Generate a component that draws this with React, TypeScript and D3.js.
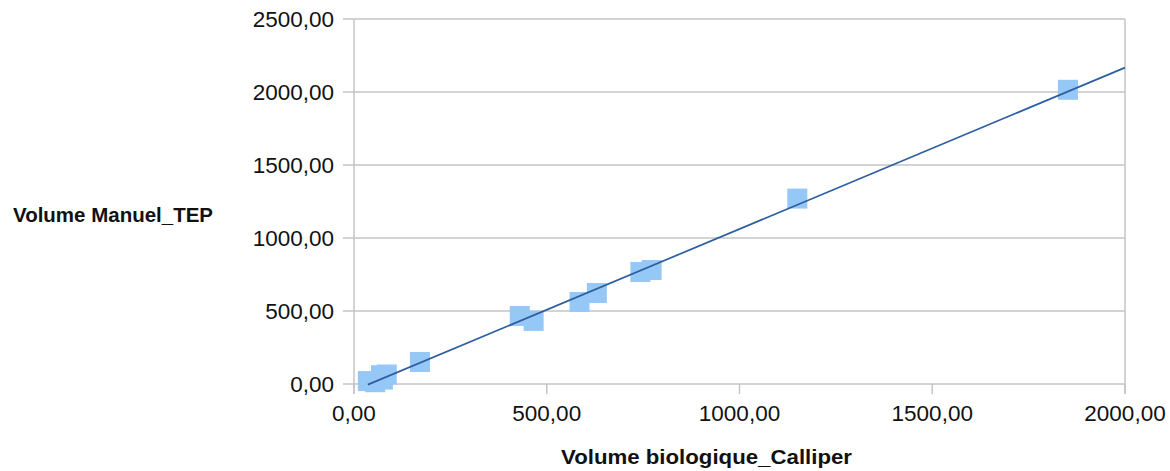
import React from "react";
import * as d3 from "d3";

const xValues = [36, 55, 70, 85, 75, 171, 430, 466, 585, 630, 743, 772, 1150, 1852];
const yValues = [20, 12, 60, 65, 30, 151, 466, 432, 562, 623, 767, 781, 1270, 2015];
const xTicks = [0, 500, 1000, 1500, 2000];
const yTicks = [0, 500, 1000, 1500, 2000, 2500];
const xTitle = "Volume biologique_Calliper";
const yTitle = "Volume Manuel_TEP";

const W = 1170;
const H = 471;
const FONT = "'Liberation Sans', Arial, Helvetica, sans-serif";

export default function App() {
  const x = d3.scaleLinear().domain([0, 2000]).range([354, 1125]);
  const y = d3.scaleLinear().domain([0, 2500]).range([384, 19]);
  const fmt = (v: number) => v.toFixed(2).replace(".", ",");

  const pts = xValues.map((v, i) => [v, yValues[i]] as [number, number]);
  const mx = d3.mean(xValues)!;
  const my = d3.mean(yValues)!;
  const sxy = d3.sum(pts, (p) => (p[0] - mx) * (p[1] - my));
  const sxx = d3.sum(pts, (p) => (p[0] - mx) ** 2);
  const slope = sxy / sxx;
  const icpt = my - slope * mx;
  const x0 = d3.min(xValues)!;
  const x1 = 2000;
  const line = d3.line<[number, number]>()
    .x((d) => x(d[0]))
    .y((d) => y(d[1]));
  const trend: [number, number][] = [
    [x0, icpt + slope * x0],
    [x1, icpt + slope * x1],
  ];

  const grid = "#c4c4c4";
  const sq = 20;

  return (
    <svg
      width={W}
      height={H}
      style={{ position: "absolute", left: 0, top: 0, background: "#fff" }}
      fontFamily={FONT}
    >
      {yTicks.map((t) => (
        <g key={"y" + t}>
          <line x1={343} x2={x(2000)} y1={y(t)} y2={y(t)} stroke={grid} strokeWidth={1.5} />
          <text x={334} y={y(t)} dy="0.36em" textAnchor="end" fontSize={22.5} fill="#111">
            {fmt(t)}
          </text>
        </g>
      ))}
      <line x1={x(0)} x2={x(0)} y1={y(2500)} y2={y(0) + 10} stroke={grid} strokeWidth={1.5} />
      <line x1={x(2000)} x2={x(2000)} y1={y(2500)} y2={y(0) + 10} stroke={grid} strokeWidth={1.5} />
      {xTicks.map((t) => (
        <g key={"x" + t}>
          <line x1={x(t)} x2={x(t)} y1={y(0)} y2={y(0) + 10} stroke={grid} strokeWidth={1.5} />
          <text x={x(t)} y={413} dy="0.36em" textAnchor="middle" fontSize={22.5} fill="#111">
            {fmt(t)}
          </text>
        </g>
      ))}
      {pts.map((p, i) => (
        <rect
          key={"p" + i}
          x={x(p[0]) - sq / 2}
          y={y(p[1]) - sq / 2}
          width={sq}
          height={sq}
          fill="#95c8f6"
        />
      ))}
      <path d={line(trend) || ""} fill="none" stroke="#2d5e9f" strokeWidth={1.7} />
      <text
        x={13}
        y={215}
        dy="0.36em"
        fontSize={19.5}
        fontWeight="bold"
        fill="#111"
        textLength={200}
        lengthAdjust="spacingAndGlyphs"
      >
        {yTitle}
      </text>
      <text
        x={561}
        y={457}
        dy="0.36em"
        fontSize={19.5}
        fontWeight="bold"
        fill="#111"
        textLength={291}
        lengthAdjust="spacingAndGlyphs"
      >
        {xTitle}
      </text>
    </svg>
  );
}
